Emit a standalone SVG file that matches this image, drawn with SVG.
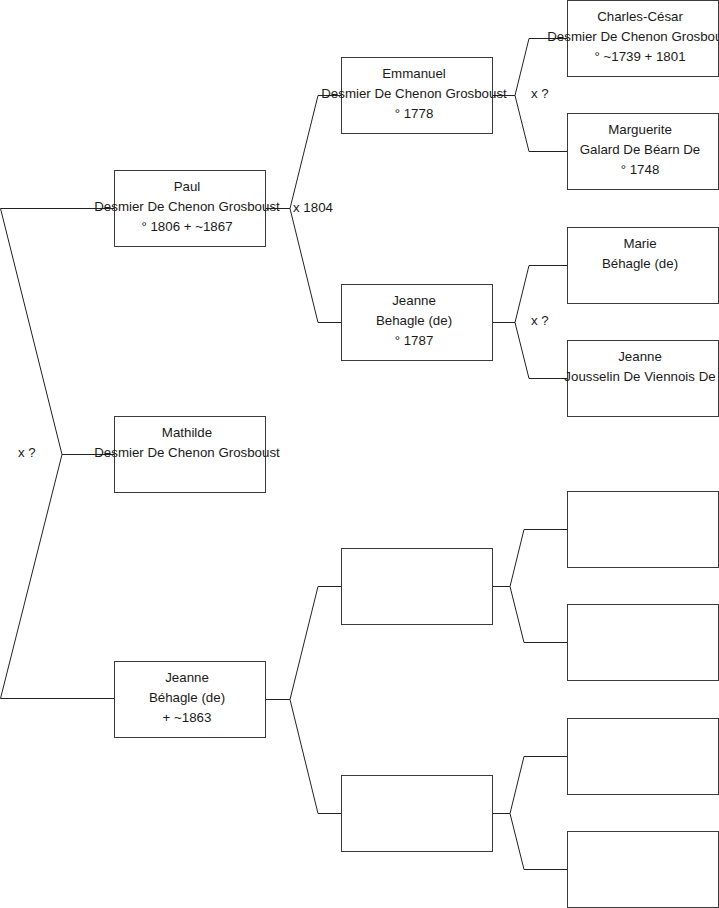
<svg xmlns="http://www.w3.org/2000/svg" width="719" height="908" viewBox="0 0 719 908">
<style>
.box{fill:none;stroke:#3a3a3a;stroke-width:1}
.ln{fill:none;stroke:#222;stroke-width:1}
text{font-family:"Liberation Sans",Arial,sans-serif;font-size:13.3px;fill:#1a1a1a}
.c{text-anchor:middle}
</style>
<rect width="719" height="908" fill="#fff"/>
<g id="connectors">
<polyline class="ln" points="114,208.5 0.5,208.5 62,454.5 0.5,698.5 114,698.5"/>
<line class="ln" x1="62" y1="454.5" x2="114" y2="454.5"/>
<polyline class="ln" points="341,95.5 318,95.5 290,208.5 318,322.5 341,322.5"/>
<line class="ln" x1="265" y1="208.5" x2="290" y2="208.5"/>
<polyline class="ln" points="341,586.5 318,586.5 290,699.5 318,813.5 341,813.5"/>
<line class="ln" x1="265" y1="699.5" x2="290" y2="699.5"/>
<polyline class="ln" points="567,38.5 529,38.5 515,95.5 529,151.5 567,151.5"/>
<line class="ln" x1="492" y1="95.5" x2="515" y2="95.5"/>
<polyline class="ln" points="567,265.5 529,265.5 515,322.5 529,378.5 567,378.5"/>
<line class="ln" x1="492" y1="322.5" x2="515" y2="322.5"/>
<polyline class="ln" points="567,529.5 524,529.5 510,586.5 524,642.5 567,642.5"/>
<line class="ln" x1="492" y1="586.5" x2="510" y2="586.5"/>
<polyline class="ln" points="567,756.5 524,756.5 510,813.5 524,869.5 567,869.5"/>
<line class="ln" x1="492" y1="813.5" x2="510" y2="813.5"/>
<text x="18" y="457">x ?</text>
<text x="293" y="212">x 1804</text>
<text x="531" y="98">x ?</text>
<text x="531" y="325">x ?</text>
</g>
<g id="paul"><rect class="box" x="114.5" y="170.5" width="151" height="76"/>
<text class="c" x="187" y="191">Paul</text><text class="c" x="187" y="211">Desmier De Chenon Grosboust</text><text class="c" x="187" y="231">° 1806 + ~1867</text></g>
<g id="mathilde"><rect class="box" x="114.5" y="416.5" width="151" height="76"/>
<text class="c" x="187" y="437">Mathilde</text><text class="c" x="187" y="457">Desmier De Chenon Grosboust</text></g>
<g id="jeanne1"><rect class="box" x="114.5" y="661.5" width="151" height="76"/>
<text class="c" x="187" y="682">Jeanne</text><text class="c" x="187" y="702">Béhagle (de)</text><text class="c" x="187" y="722">+ ~1863</text></g>
<g id="emmanuel"><rect class="box" x="341.5" y="57.5" width="151" height="76"/>
<text class="c" x="414" y="78">Emmanuel</text><text class="c" x="414" y="98">Desmier De Chenon Grosboust</text><text class="c" x="414" y="118">° 1778</text></g>
<g id="jeanne2"><rect class="box" x="341.5" y="284.5" width="151" height="76"/>
<text class="c" x="414" y="305">Jeanne</text><text class="c" x="414" y="325">Behagle (de)</text><text class="c" x="414" y="345">° 1787</text></g>
<g id="empty1"><rect class="box" x="341.5" y="548.5" width="151" height="76"/></g>
<g id="empty2"><rect class="box" x="341.5" y="775.5" width="151" height="76"/></g>
<g id="charles"><rect class="box" x="567.5" y="0.5" width="151" height="76"/>
<text class="c" x="640" y="21">Charles-César</text><text class="c" x="640" y="41">Desmier De Chenon Grosboust</text><text class="c" x="640" y="61">° ~1739 + 1801</text></g>
<g id="marguerite"><rect class="box" x="567.5" y="113.5" width="151" height="76"/>
<text class="c" x="640" y="134">Marguerite</text><text class="c" x="640" y="154">Galard De Béarn De</text><text class="c" x="640" y="174">° 1748</text></g>
<g id="marie"><rect class="box" x="567.5" y="227.5" width="151" height="76"/>
<text class="c" x="640" y="248">Marie</text><text class="c" x="640" y="268">Béhagle (de)</text></g>
<g id="jeanne3"><rect class="box" x="567.5" y="340.5" width="151" height="76"/>
<text class="c" x="640" y="361">Jeanne</text><text class="c" x="640" y="381">Jousselin De Viennois De</text></g>
<g id="empty3"><rect class="box" x="567.5" y="491.5" width="151" height="76"/></g>
<g id="empty4"><rect class="box" x="567.5" y="604.5" width="151" height="76"/></g>
<g id="empty5"><rect class="box" x="567.5" y="718.5" width="151" height="76"/></g>
<g id="empty6"><rect class="box" x="567.5" y="831.5" width="151" height="76"/></g>
</svg>
